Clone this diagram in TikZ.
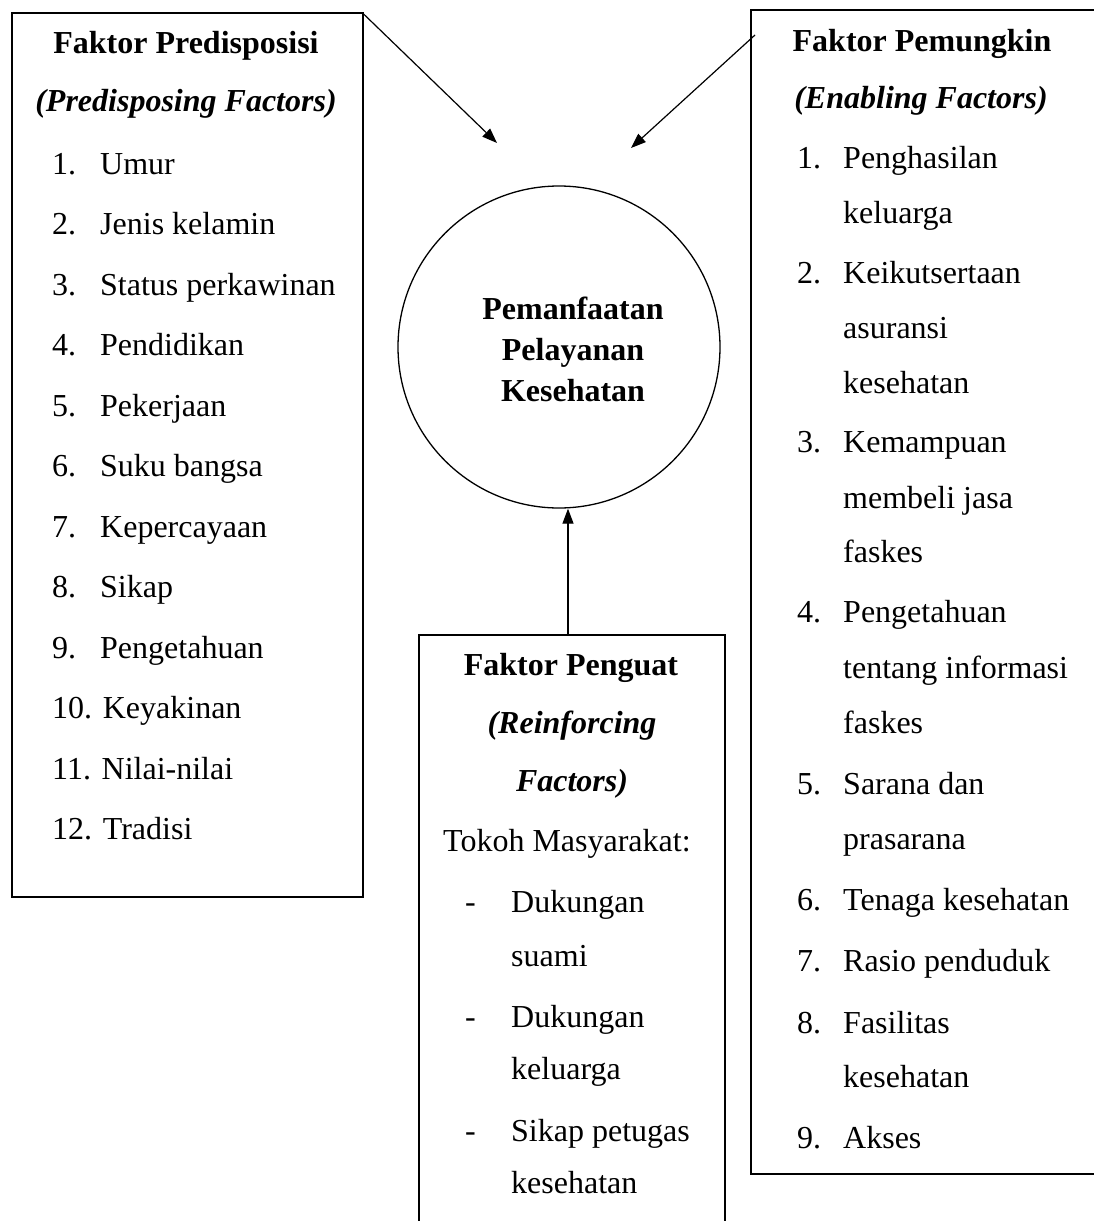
\documentclass[tikz,border=0pt]{standalone}
\usepackage{fontspec}
\setmainfont{Liberation Serif}
\usetikzlibrary{arrows.meta,calc}
\newcommand\fsz{\fontsize{32}{38}\selectfont}
\begin{document}
\begin{tikzpicture}[x=1pt,y=-1pt,
  txt/.style={anchor=base west, inner sep=0pt, font=\fsz},
  ctxt/.style={anchor=base, inner sep=0pt, font=\fsz\bfseries},
  ititle/.style={anchor=base, inner sep=0pt, font=\fsz\bfseries\itshape},
  boxnode/.style={draw, line width=1.6pt, anchor=north west, inner sep=0pt},
  arr/.style={line width=1.2pt, -{Triangle[length=15pt,width=11pt]}}]
\useasboundingbox (0,0) rectangle (1094,1221);

% boxes
\node[boxnode, minimum width=351pt, minimum height=884pt] (L) at (11,12) {};
\node[boxnode, minimum width=352pt, minimum height=1164pt] (R) at (750,9) {};
\node[boxnode, minimum width=306pt, minimum height=600pt] (B) at (418,634) {};

% circle
\node[draw, circle, line width=1.3pt, minimum size=322pt, inner sep=0pt] (C) at (559,347) {};
\node[ctxt] (c1) at (573,319) {Pemanfaatan};
\node[ctxt] (c2) at (573,360) {Pelayanan};
\node[ctxt] (c3) at (573,401) {Kesehatan};

% left box text
\node[ctxt] (lt) at (186,53) {Faktor Predisposisi};
\node[ititle] (ls) at (186,111) {(Predisposing Factors)};
\foreach \n/\t [count=\i from 0] in {1./Umur, 2./Jenis kelamin, 3./Status perkawinan, 4./Pendidikan, 5./Pekerjaan, 6./Suku bangsa, 7./Kepercayaan, 8./Sikap, 9./Pengetahuan}
{
  \node[txt] (ln\i) at (52,{174+60.5*\i}) {\n};
  \node[txt] (li\i) at (100,{174+60.5*\i}) {\t};
}
\node[txt] (l10) at (52,{174+60.5*9}) {10. Keyakinan};
\node[txt] (l11) at (52,{174+60.5*10}) {11. Nilai-nilai};
\node[txt] (l12) at (52,{174+60.5*11}) {12. Tradisi};

% right box text
\node[ctxt] (rt) at (922,51) {Faktor Pemungkin};
\node[ititle] (rs) at (921,108) {(Enabling Factors)};
\foreach \y/\n/\t in {168/1./Penghasilan, 223//keluarga, 283/2./Keikutsertaan, 338//asuransi, 393//kesehatan, 452/3./Kemampuan, 508//membeli jasa, 562//faskes, 622/4./Pengetahuan, 678//tentang informasi, 733//faskes, 794/5./Sarana dan, 849//prasarana, 910/6./Tenaga kesehatan, 971/7./Rasio penduduk, 1033/8./Fasilitas, 1087//kesehatan, 1148/9./Akses}
{
  \node[txt] (rn\y) at (797,\y) {\n};
  \node[txt] (ri\y) at (843,\y) {\t};
}

% bottom box text
\node[ctxt] (bt) at (571,675) {Faktor Penguat};
\node[ititle] (bs1) at (572,733) {(Reinforcing};
\node[ititle] (bs2) at (572,791) {Factors)};
\node[txt] (bk) at (443,851) {Tokoh Masyarakat:};
\foreach \y/\n/\t in {912/-/Dukungan, 966//suami, 1027/-/Dukungan, 1079//keluarga, 1141/-/Sikap petugas, 1193//kesehatan}
{
  \node[txt] (bn\y) at (465,\y) {\n};
  \node[txt] (bi\y) at (511,\y) {\t};
}

% connectors
\coordinate (e1) at (497,143);
\coordinate (s2) at (755,35);
\coordinate (e2) at (631,148);
\coordinate (s3) at (568,634);
\draw[arr] ($(L.north east)+(0,2)$) -- (e1);
\draw[arr] (s2) -- (e2);
\draw[arr] (s3) -- (s3 |- C.south);
\end{tikzpicture}
\end{document}
